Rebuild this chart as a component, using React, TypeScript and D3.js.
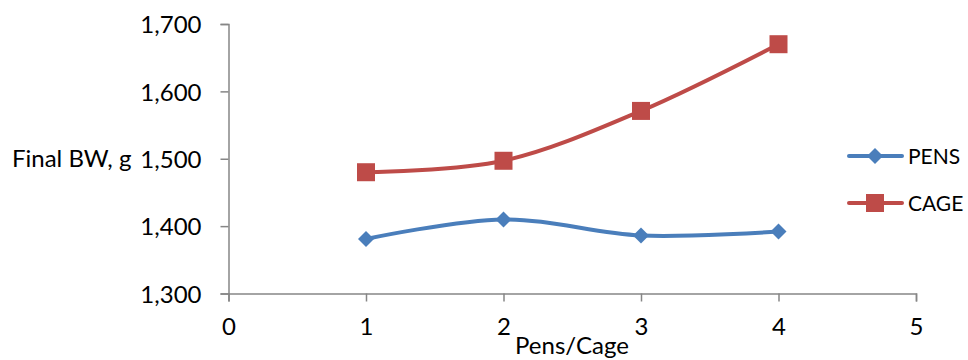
import React, { useEffect, useRef } from "react";
import * as d3 from "d3";

const penCounts = [1, 2, 3, 4];
const pensValues = [1381, 1410, 1386, 1392];
const cageValues = [1480, 1497, 1571, 1670];
const seriesNames = ["PENS", "CAGE"];
const seriesColors = ["#4A7EBB", "#BE4B48"];
const xTicks = [0, 1, 2, 3, 4, 5];
const yTicks = [1300, 1400, 1500, 1600, 1700];

const W = 968;
const H = 360;
const FONT = "Lato, 'Open Sans', sans-serif";
const LABEL_SIZE = "24px";
const LEGEND_SIZE = "21px";

export default function App() {
  const ref = useRef<SVGSVGElement>(null);

  useEffect(() => {
    const svg = d3.select(ref.current);
    svg.selectAll("*").remove();

    const x = d3.scaleLinear().domain([0, 5]).range([228.5, 916]);
    const y = d3.scaleLinear().domain([1300, 1700]).range([293.5, 24]);
    const axisColor = "#868686";

    // y axis
    const gy = svg.append("g").attr("transform", `translate(${x(0)},0)`);
    gy.call(
      d3
        .axisLeft(y)
        .tickValues(yTicks)
        .tickSize(8)
        .tickPadding(19)
        .tickFormat(d3.format(","))
    );
    // x axis
    const gx = svg.append("g").attr("transform", `translate(0,${y(1300)})`);
    gx.call(
      d3.axisBottom(x).tickValues(xTicks).tickSize(8).tickPadding(16).tickFormat(d3.format("d"))
    );
    [gx, gy].forEach((g) => {
      g.select(".domain").attr("stroke", axisColor).attr("stroke-width", 1.5);
      g.selectAll(".tick line").attr("stroke", axisColor).attr("stroke-width", 1.5);
      g.selectAll(".tick text")
        .attr("fill", "#000")
        .style("font-family", FONT)
        .style("font-size", LABEL_SIZE);
    });
    gy.selectAll(".tick text").attr("dy", "0.36em");
    gx.selectAll(".tick text").attr("dy", "0.71em");

    // axis titles
    svg
      .append("text")
      .attr("x", 12)
      .attr("y", y(1500))
      .attr("dy", "0.36em")
      .style("font-family", FONT)
      .style("font-size", LABEL_SIZE)
      .text("Final BW, g");
    svg
      .append("text")
      .attr("x", 572)
      .attr("y", 354)
      .attr("text-anchor", "middle")
      .style("font-family", FONT)
      .style("font-size", LABEL_SIZE)
      .text("Pens/Cage");

    const line = d3
      .line<[number, number]>()
      .x((d) => x(d[0]))
      .y((d) => y(d[1]))
      .curve(d3.curveCardinal.tension(0));

    const allSeries = [pensValues, cageValues];
    const diamond = (cx: number, cy: number, r: number) =>
      `M${cx},${cy - r}L${cx + r},${cy}L${cx},${cy + r}L${cx - r},${cy}Z`;

    allSeries.forEach((vals, si) => {
      const pts = penCounts.map((c, i) => [c, vals[i]] as [number, number]);
      const color = seriesColors[si];
      svg
        .append("path")
        .attr("d", line(pts) as string)
        .attr("fill", "none")
        .attr("stroke", color)
        .attr("stroke-width", 4)
        .attr("stroke-linecap", "round");
      pts.forEach((p) => {
        if (si === 0) {
          svg.append("path").attr("d", diamond(x(p[0]), y(p[1]), 8)).attr("fill", color);
        } else {
          svg
            .append("rect")
            .attr("x", x(p[0]) - 9)
            .attr("y", y(p[1]) - 9)
            .attr("width", 18)
            .attr("height", 18)
            .attr("fill", color);
        }
      });
    });

    // legend
    const legendY = [156, 203];
    seriesNames.forEach((name, si) => {
      const color = seriesColors[si];
      const ly = legendY[si];
      svg
        .append("line")
        .attr("x1", 849)
        .attr("x2", 902)
        .attr("y1", ly)
        .attr("y2", ly)
        .attr("stroke", color)
        .attr("stroke-width", 4)
        .attr("stroke-linecap", "round");
      if (si === 0) {
        svg.append("path").attr("d", diamond(875, ly, 8)).attr("fill", color);
      } else {
        svg
          .append("rect")
          .attr("x", 866)
          .attr("y", ly - 9)
          .attr("width", 18)
          .attr("height", 18)
          .attr("fill", color);
      }
      svg
        .append("text")
        .attr("x", 908)
        .attr("y", ly)
        .attr("dy", "0.36em")
        .style("font-family", FONT)
        .style("font-size", LEGEND_SIZE)
        .text(name);
    });
  }, []);

  return (
    <svg
      ref={ref}
      width={W}
      height={H}
      style={{ position: "absolute", left: 0, top: 0, background: "#fff" }}
    />
  );
}
